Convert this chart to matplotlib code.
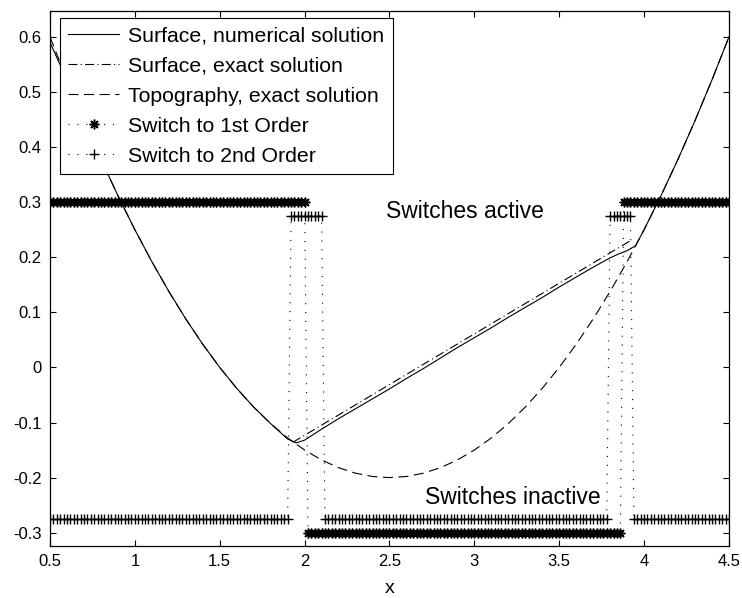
import numpy as np
import matplotlib
matplotlib.use("Agg")
import matplotlib.pyplot as plt
from matplotlib.ticker import FuncFormatter

plt.rcParams['font.family'] = ['Liberation Sans', 'DejaVu Sans']

# Topography (bowl), sampled every 0.1
topo_x = [0.5, 0.6, 0.7, 0.8, 0.9, 1.0, 1.1, 1.2, 1.3, 1.4, 1.5, 1.6, 1.7, 1.8,
          1.9, 2.0, 2.1, 2.2, 2.3, 2.4, 2.5, 2.6, 2.7, 2.8, 2.9, 3.0, 3.1, 3.2,
          3.3, 3.4, 3.5, 3.6, 3.7, 3.8, 3.9, 4.0, 4.1, 4.2, 4.3, 4.4, 4.5]
topo_y = [0.600, 0.522, 0.448, 0.378, 0.312, 0.250, 0.192, 0.138, 0.088, 0.042,
          0.000, -0.038, -0.072, -0.102, -0.128, -0.150, -0.168, -0.182, -0.192,
          -0.198, -0.200, -0.198, -0.192, -0.182, -0.168, -0.150, -0.128, -0.102,
          -0.072, -0.038, 0.000, 0.042, 0.088, 0.138, 0.192, 0.250, 0.312, 0.378,
          0.448, 0.522, 0.600]

# Free surface, numerical solution (dry parts sit on the topography)
num_x = [0.5, 0.6, 0.7, 0.8, 0.9, 1.0, 1.1, 1.2, 1.3, 1.4, 1.5, 1.6, 1.7, 1.8,
         1.9, 1.95, 2.0, 2.1, 2.2, 2.3, 2.4, 2.5, 2.6, 2.7, 2.8, 2.9, 3.0, 3.1,
         3.2, 3.3, 3.4, 3.5, 3.6, 3.7, 3.8, 3.85, 3.9, 3.95, 4.0, 4.1, 4.2, 4.3,
         4.4, 4.5]
num_y = [0.590, 0.522, 0.448, 0.378, 0.312, 0.250, 0.192, 0.138, 0.088, 0.042,
         0.000, -0.038, -0.072, -0.102, -0.130, -0.137, -0.132, -0.112, -0.093,
         -0.075, -0.057, -0.039, -0.020, -0.002, 0.017, 0.036, 0.054, 0.072,
         0.091, 0.109, 0.127, 0.146, 0.164, 0.182, 0.199, 0.206, 0.212, 0.221,
         0.250, 0.312, 0.378, 0.448, 0.522, 0.600]

# Free surface, exact solution (planar between the two shorelines)
exact_x = [1.93, 3.93]
exact_y = [-0.136, 0.232]

# Switch indicators on the mesh
mesh_dx = 0.02
first_order_on = [(0.5, 2.00), (3.88, 4.5)]
second_order_on = [(1.92, 2.10), (3.80, 3.92)]
first_level = 0.30
second_level = 0.275


def switch_flags(x, intervals, level):
    on = np.zeros_like(x, dtype=bool)
    for a, b in intervals:
        on |= (x >= a - 1e-9) & (x <= b + 1e-9)
    return np.where(on, level, -level)


mesh_x = np.round(np.arange(0.5, 4.5 + mesh_dx / 2, mesh_dx), 3)
first_y = switch_flags(mesh_x, first_order_on, first_level)
second_y = switch_flags(mesh_x, second_order_on, second_level)

fig = plt.figure(figsize=(7.42, 5.98), dpi=100)
ax = fig.add_axes([0.0674, 0.0875, 0.915, 0.894])

lw = 0.8
dots = (0, (1, 7))
ax.plot(num_x, num_y, color='black', lw=lw, label='Surface, numerical solution')
ax.plot(exact_x, exact_y, color='black', lw=lw, linestyle=(0, (8, 3, 1, 3)),
        label='Surface, exact solution')
ax.plot(topo_x, topo_y, color='black', lw=lw, linestyle=(0, (9, 5)),
        label='Topography, exact solution')
ax.plot(mesh_x, first_y, color='black', lw=lw, linestyle=dots,
        marker=(8, 2, 0), markersize=7, markeredgewidth=1.1,
        label='Switch to 1st Order')
ax.plot(mesh_x, second_y, color='black', lw=lw, linestyle=dots,
        marker='+', markersize=7, markeredgewidth=1.0,
        label='Switch to 2nd Order')

ax.text(2.48, 0.284, 'Switches active', fontsize=16.5, va='center')
ax.text(2.71, -0.236, 'Switches inactive', fontsize=16.5, va='center')

ax.set_xlim(0.5, 4.5)
ax.set_ylim(-0.3236, 0.647)
ax.set_xticks(np.arange(0.5, 4.51, 0.5))
ax.set_yticks(np.arange(-0.3, 0.61, 0.1))
fmt = FuncFormatter(lambda v, p: f'{round(v, 2):g}' if abs(v) > 1e-9 else '0')
ax.xaxis.set_major_formatter(fmt)
ax.yaxis.set_major_formatter(fmt)
ax.tick_params(direction='in', length=4, width=0.8, top=True, right=True,
               labelsize=12, pad=6)
for s in ax.spines.values():
    s.set_linewidth(0.9)
ax.set_xlabel('x', fontsize=14, labelpad=8)

leg = ax.legend(loc='upper left', bbox_to_anchor=(0.0147, 0.987),
                borderaxespad=0, fontsize=15.3, numpoints=1, handlelength=2.4,
                handletextpad=0.4, labelspacing=0.52, borderpad=0.4,
                fancybox=False, framealpha=1, edgecolor='black')
leg.get_frame().set_linewidth(0.8)

fig.savefig('out.png', dpi=100)
